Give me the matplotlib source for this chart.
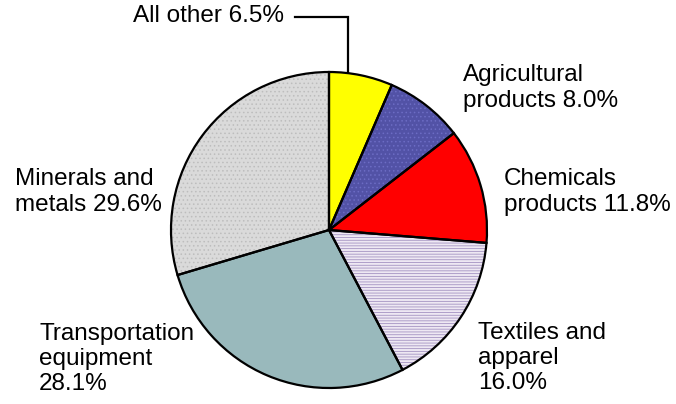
import matplotlib.pyplot as plt

plt.rcParams['font.family'] = ['Liberation Sans', 'DejaVu Sans']
plt.rcParams['hatch.linewidth'] = 0.6

# slices clockwise from 12 o'clock
categories = ['All other', 'Agricultural\nproducts', 'Chemicals\nproducts',
              'Textiles and\napparel\n', 'Transportation\nequipment\n', 'Minerals and\nmetals']
shares = [6.5, 8.0, 11.8, 16.0, 28.1, 29.6]
face_colors = ['#FFFF00', '#5252A6', '#FF0000', '#EEE8F3', '#99B9BC', '#DADADA']
hatches = [None, '....', None, '------', None, '....']
hatch_colors = [None, '#6C6CC4', None, '#A493C2', None, '#BDBDBD']

W, H = 676, 404
cx, cy, r = 329, 230, 158

fig = plt.figure(figsize=(W / 100, H / 100), dpi=100)
ax = fig.add_axes([0, 0, 1, 1])

# fill + hatch pass (hatch colour comes from edge colour)
wedges, _ = ax.pie(shares, startangle=90, counterclock=False, center=(cx, H - cy),
                   radius=r, colors=face_colors, wedgeprops=dict(linewidth=0))
for w, h, hc in zip(wedges, hatches, hatch_colors):
    if h:
        w.set_hatch(h)
        w.set_edgecolor(hc)

# outline pass
ax.pie(shares, startangle=90, counterclock=False, center=(cx, H - cy), radius=r,
       colors=['none'] * len(shares),
       wedgeprops=dict(linewidth=1.6, edgecolor='black', fill=False))

ax.set_xlim(0, W)
ax.set_ylim(0, H)
ax.set_aspect('equal')
ax.axis('off')

fs = 17.5
labels = [
    ('All other 6.5%', 133, 16),
    ('Agricultural\nproducts 8.0%', 463, 88),
    ('Chemicals\nproducts 11.8%', 504, 192),
    ('Textiles and\napparel\n16.0%', 478, 358),
    ('Transportation\nequipment\n28.1%', 39, 359),
    ('Minerals and\nmetals 29.6%', 15, 192),
]
for txt, x, y in labels:
    ax.text(x, H - y, txt, fontsize=fs, ha='left', va='center', linespacing=1.18)

# leader line for "All other"
ax.plot([295, 348, 348], [H - 17, H - 17, H - 72], color='black', lw=1.6,
        solid_joinstyle='miter')

fig.savefig('out.png', dpi=100)
